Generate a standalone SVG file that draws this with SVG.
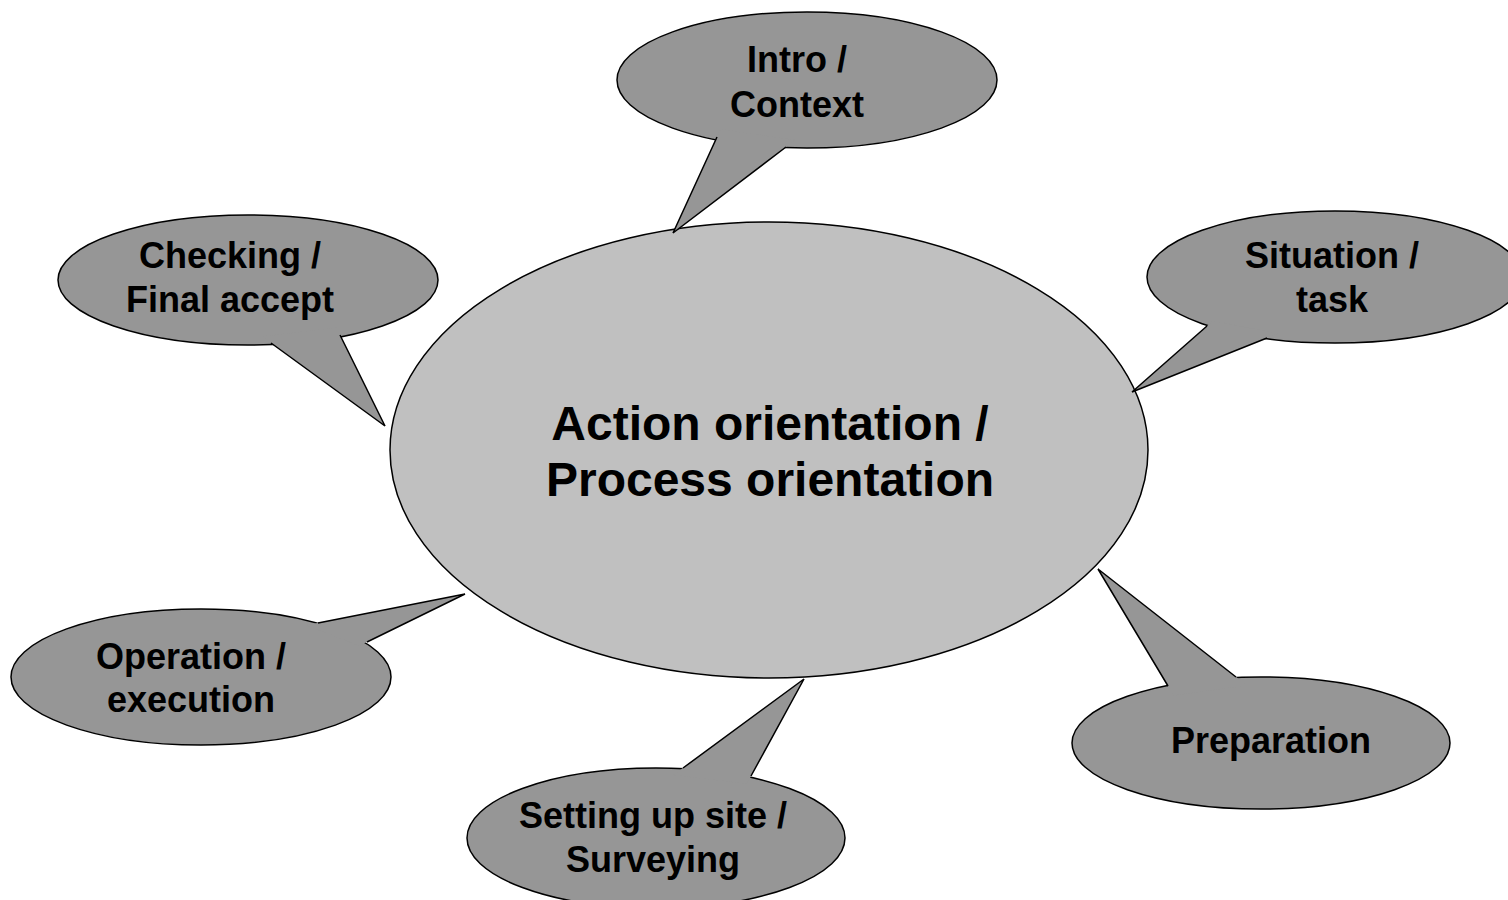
<svg xmlns="http://www.w3.org/2000/svg" width="1508" height="900" viewBox="0 0 1508 900">
<style>
.bg{fill:#ffffff}
.main{fill:#c0c0c0;stroke:#000;stroke-width:1.5}
.co{fill:#969696;stroke:#000;stroke-width:1.5}
.tf{fill:#969696;stroke:none}
.tl{fill:none;stroke:#000;stroke-width:1.5;stroke-linejoin:miter}
.t{font-family:"Liberation Sans",Arial,sans-serif;font-weight:bold;fill:#000;text-anchor:middle}
.ts{font-size:36px}
.tm{font-size:48px}
</style>
<rect class="bg" x="0" y="0" width="1508" height="900"/>
<g id="center">
<ellipse class="main" cx="769" cy="450" rx="379" ry="228"/>
<text class="t tm" x="770" y="440">Action orientation /</text>
<text class="t tm" x="770" y="496">Process orientation</text>
</g>
<g id="connectors">
</g>
<g id="intro">
<ellipse class="co" cx="807" cy="80" rx="190" ry="68"/>
<polygon class="tf" points="720.5,129.3 673,233 795,140.1"/>
<polyline class="tl" points="717,137 673,233 786,147"/>
<text class="t ts" x="797" y="72">Intro /</text>
<text class="t ts" x="797" y="117">Context</text>
</g>
<g id="checking">
<ellipse class="co" cx="248" cy="280" rx="190" ry="65"/>
<polygon class="tf" points="261.9,336.4 385,426 336.4,327.7"/>
<polyline class="tl" points="271,343 385,426 340,335"/>
<text class="t ts" x="230" y="268">Checking /</text>
<text class="t ts" x="230" y="312">Final accept</text>
</g>
<g id="situation">
<ellipse class="co" cx="1335" cy="277" rx="188" ry="66"/>
<polygon class="tf" points="1213,320.7 1132,392 1277.8,333.7"/>
<polyline class="tl" points="1207,326 1132,392 1267,338"/>
<text class="t ts" x="1332" y="268">Situation /</text>
<text class="t ts" x="1332" y="312">task</text>
</g>
<g id="operation">
<ellipse class="co" cx="201" cy="677" rx="190" ry="68"/>
<polygon class="tf" points="306.2,625.3 465,594 359.2,645.8"/>
<polyline class="tl" points="318,623 465,594 367,642"/>
<text class="t ts" x="191" y="669">Operation /</text>
<text class="t ts" x="191" y="712">execution</text>
</g>
<g id="setting">
<ellipse class="co" cx="656" cy="838" rx="189" ry="70"/>
<polygon class="tf" points="673.3,775.1 804,679 746.8,783.8"/>
<polyline class="tl" points="683,768 804,679 751,776"/>
<text class="t ts" x="653" y="828">Setting up site /</text>
<text class="t ts" x="653" y="872">Surveying</text>
</g>
<g id="preparation">
<ellipse class="co" cx="1261" cy="743" rx="189" ry="66"/>
<polygon class="tf" points="1173.6,695.4 1098,569 1247,685.6"/>
<polyline class="tl" points="1168,686 1098,569 1236,677"/>
<text class="t ts" x="1271" y="753">Preparation</text>
</g>
</svg>
